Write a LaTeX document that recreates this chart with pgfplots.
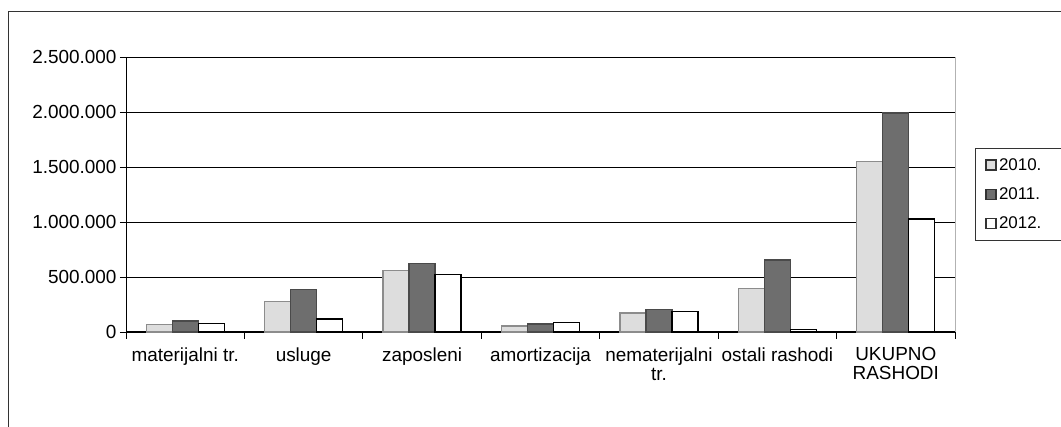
\documentclass[border=0pt]{standalone}
\usepackage{pgfplots}
\pgfplotsset{compat=1.18}
\usepackage{fontspec}
\setmainfont{Liberation Sans}
\definecolor{cA}{HTML}{DDDDDD}
\definecolor{cAb}{HTML}{8C8C8C}
\definecolor{cB}{HTML}{6E6E6E}
\definecolor{cBb}{HTML}{4A4A4A}
\begin{document}
\begin{tikzpicture}
\path[use as bounding box] (0bp,0bp) rectangle (1061bp,427bp);
\draw[black!80, line width=1bp] (8bp,0bp) -- (8bp,415bp) -- (1061bp,415bp);
\begin{axis}[
  at={(126bp,95bp)}, anchor=south west,
  scale only axis, width=829bp, height=275bp,
  clip=false,
  ybar=0pt, bar width=26bp,
  xmin=-0.5, xmax=6.5, ymin=0, ymax=2500000,
  axis x line*=bottom, axis y line*=left,
  axis line style={-, black, line width=1bp},
  xtick={0,1,2,3,4,5,6},
  xticklabels={materijalni tr., usluge, zaposleni, amortizacija, {nematerijalni\\tr.}, ostali rashodi, {UKUPNO\\RASHODI}},
  xticklabel style={align=center, font=\fontsize{19}{19}\selectfont, text depth=0pt, yshift=-6bp},
  xtick style={draw=none},
  ytick={0,500000,1000000,1500000,2000000,2500000},
  scaled y ticks=false,
  yticklabel style={font=\fontsize{19}{19}\selectfont},
  /pgf/number format/.cd, fixed, 1000 sep={.}, assume math mode=true,
  /pgfplots/.cd,
  ymajorgrids, grid style={black, line width=0.8bp},
  tick align=outside, major tick length=6bp,
  ytick style={black, line width=0.9bp},
  legend style={at={(1,1)}, anchor=north west, xshift=20bp, yshift=-91bp,
    draw=black!80, line width=0.8bp, font=\fontsize{17}{17}\selectfont,
    row sep=12bp, inner xsep=10bp, inner ysep=8bp, text width=70bp,
    legend cell align=left},
  legend image code/.code={\draw[#1, line width=1.6bp, draw=black!80] (0bp,-5bp) rectangle (10bp,5bp);},
]
\draw[gray!60, line width=0.8bp] (rel axis cs:1,0) -- (rel axis cs:1,1);
\draw[black, line width=0.9bp] (rel axis cs:0,0) -- ++(0bp,-7bp);
\draw[black, line width=0.9bp] (rel axis cs:0.142857,0) -- ++(0bp,-7bp);
\draw[black, line width=0.9bp] (rel axis cs:0.285714,0) -- ++(0bp,-7bp);
\draw[black, line width=0.9bp] (rel axis cs:0.428571,0) -- ++(0bp,-7bp);
\draw[black, line width=0.9bp] (rel axis cs:0.571429,0) -- ++(0bp,-7bp);
\draw[black, line width=0.9bp] (rel axis cs:0.714286,0) -- ++(0bp,-7bp);
\draw[black, line width=0.9bp] (rel axis cs:0.857143,0) -- ++(0bp,-7bp);
\draw[black, line width=0.9bp] (rel axis cs:1,0) -- ++(0bp,-7bp);
\addplot[fill=cA, draw=cAb, line width=1.2bp] coordinates {(0,70000) (1,280000) (2,560000) (3,55000) (4,172000) (5,396000) (6,1548000)};
\addplot[fill=cB, draw=cBb, line width=1.2bp] coordinates {(0,100000) (1,385000) (2,622000) (3,73000) (4,206000) (5,655000) (6,1990000)};
\addplot[fill=white, draw=black, line width=1.2bp] coordinates {(0,80000) (1,118000) (2,520000) (3,85000) (4,188000) (5,25000) (6,1027000)};
\legend{2010., 2011., 2012.}
\end{axis}
\end{tikzpicture}
\end{document}
